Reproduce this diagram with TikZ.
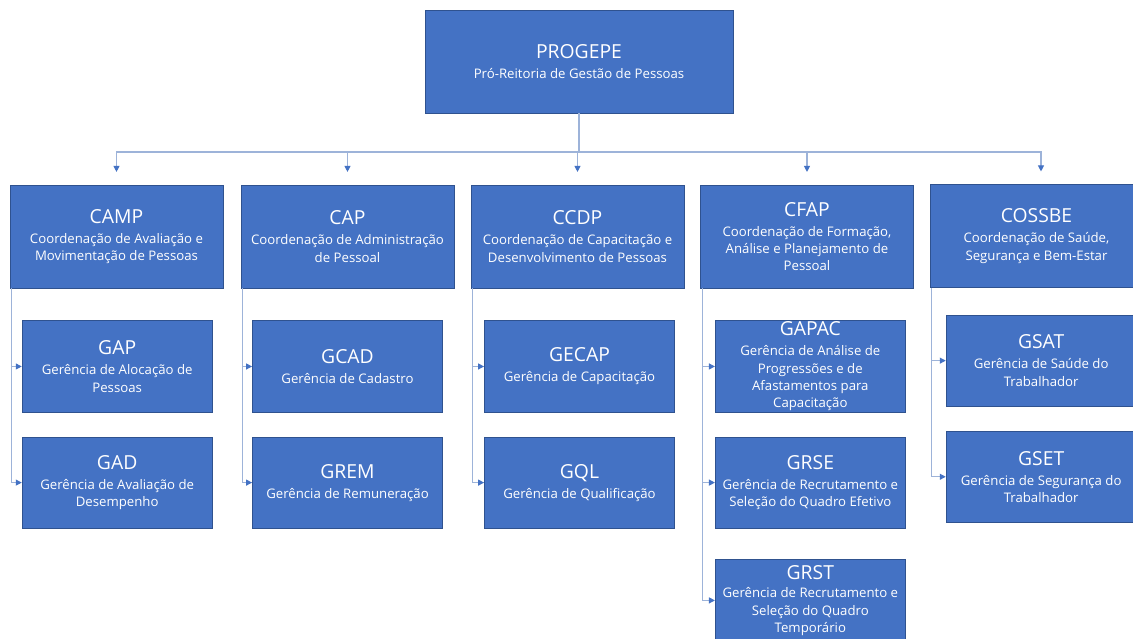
\documentclass[tikz,border=0pt]{standalone}
\usepackage{fontspec}
\setmainfont{Open Sans}
\usetikzlibrary{arrows.meta,positioning,calc}
\definecolor{boxBlue}{HTML}{4472C4}
\definecolor{edgeBlue}{HTML}{2F528F}
\definecolor{linkBlue}{HTML}{9DB3D9}
\newcommand{\orgtitle}{\fontsize{14.5}{17}\selectfont}
\tikzset{
  org box/.style={draw=edgeBlue,fill=boxBlue,line width=0.6pt,text=white,
    align=center,inner sep=0pt,font=\fontsize{9.9}{13}\selectfont},
  head node/.style={org box,minimum width=231pt,minimum height=77.25pt},
  coord node/.style={org box,minimum width=159.75pt,minimum height=77.25pt},
  unit node/.style={org box,minimum width=142.5pt,minimum height=68.5pt},
  link arrow/.style={draw=linkBlue,line width=0.8pt,
    -{Triangle[length=4.5pt,width=4.5pt,color=boxBlue,fill=boxBlue]}}
}
\begin{document}
\begin{tikzpicture}[x=0.75pt,y=-0.75pt]
  \clip (0,0) rectangle (1133,639);
  \fill[white] (0,0) rectangle (1133,639);
  % top level
  \node[head node] (progepe) at (579,61.5) {%
    {\orgtitle PROGEPE}\\[2pt]
    Pró-Reitoria de Gestão de Pessoas};
  % coordinations
  \node[coord node] (camp) at (116.5,236.5) {%
    {\orgtitle CAMP}\\[2pt]
    Coordenação de Avaliação e\\ Movimentação de Pessoas};
  \node[coord node] (cap) at (347.5,236.5) {%
    {\orgtitle CAP}\\[2pt]
    Coordenação de Administração\\ de Pessoal};
  \node[coord node] (ccdp) at (577.5,236.5) {%
    {\orgtitle CCDP}\\[2pt]
    Coordenação de Capacitação e\\ Desenvolvimento de Pessoas};
  \node[coord node] (cfap) at (807,236.5) {%
    {\orgtitle CFAP}\\[2pt]
    Coordenação de Formação,\\ Análise e Planejamento de\\ Pessoal};
  \node[coord node] (cossbe) at (1036.5,236) {%
    {\orgtitle COSSBE}\\[2pt]
    Coordenação de Saúde,\\ Segurança e Bem-Estar};
  % units
  \node[unit node,below=24pt of camp,xshift=0.5pt] (gap) {%
    {\orgtitle GAP}\\[2pt]
    Gerência de Alocação de\\ Pessoas};
  \node[unit node,below=18pt of gap] (gad) {%
    {\orgtitle GAD}\\[2pt]
    Gerência de Avaliação de\\ Desempenho};
  \node[unit node,below=24pt of cap] (gcad) {%
    {\orgtitle GCAD}\\[2pt]
    Gerência de Cadastro};
  \node[unit node,below=18pt of gcad] (grem) {%
    {\orgtitle GREM}\\[2pt]
    Gerência de Remuneração};
  \node[unit node,below=24pt of ccdp,xshift=1.5pt] (gecap) {%
    {\orgtitle GECAP}\\[2pt]
    Gerência de Capacitação};
  \node[unit node,below=18pt of gecap] (gql) {%
    {\orgtitle GQL}\\[2pt]
    Gerência de Qualificação};
  \node[unit node,below=24pt of cfap,xshift=2.5pt] (gapac) {%
    {\orgtitle GAPAC}\\[2pt]
    Gerência de Análise de\\ Progressões e de\\ Afastamentos para\\ Capacitação};
  \node[unit node,below=18pt of gapac] (grse) {%
    {\orgtitle GRSE}\\[2pt]
    Gerência de Recrutamento e\\ Seleção do Quadro Efetivo};
  \node[unit node,minimum height=61pt,below=23pt of grse] (grst) {%
    {\orgtitle GRST}\\[1pt]
    Gerência de Recrutamento e\\ Seleção do Quadro\\ Temporário};
  \node[unit node,below=20pt of cossbe,xshift=3.5pt] (gsat) {%
    {\orgtitle GSAT}\\[2pt]
    Gerência de Saúde do\\ Trabalhador};
  \node[unit node,below=18pt of gsat] (gset) {%
    {\orgtitle GSET}\\[2pt]
    Gerência de Segurança do\\ Trabalhador};
  % connectors
  \coordinate (bus) at (579,152);
  \foreach \c in {camp,cap,ccdp,cfap}
    \draw[link arrow,shorten >=9.5pt] (progepe.south) -- (bus) -| (\c.north);
  \draw[link arrow,shorten >=9.5pt] (progepe.south) -- (bus)
    -| ($(cossbe.north)+(4.5,0)$);
  \foreach \p/\a/\b in {camp/gap/gad,cap/gcad/grem,ccdp/gecap/gql,cossbe/gsat/gset}{
    \draw[link arrow] ($(\p.south west)+(2,0)$) |- (\a.west);
    \draw[link arrow] ($(\p.south west)+(2,0)$) |- (\b.west);
  }
  \foreach \u in {gapac,grse,grst}
    \draw[link arrow] ($(cfap.south west)+(2,0)$) |- (\u.west);
\end{tikzpicture}
\end{document}
